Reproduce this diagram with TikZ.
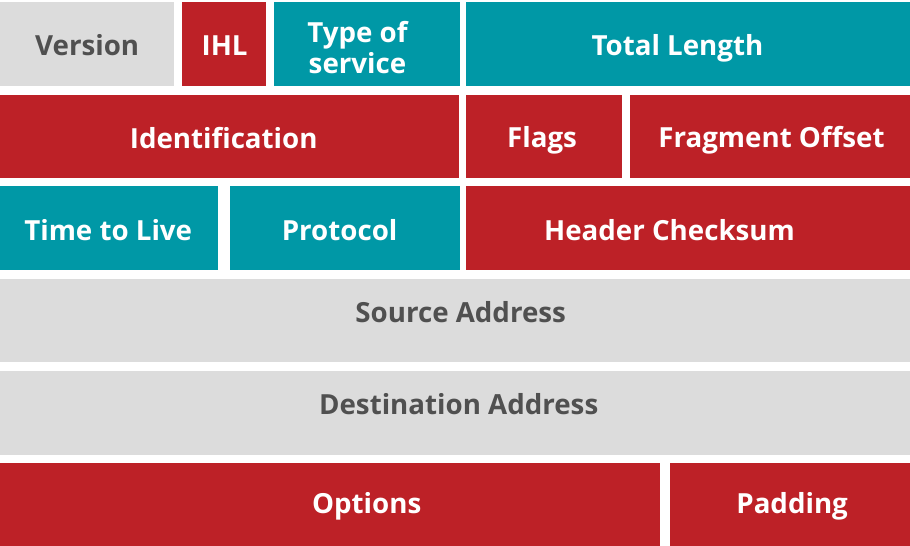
\documentclass[tikz,border=0pt]{standalone}
\usepackage{fontspec}
\setmainfont{Open Sans}
\usepackage{tikz}
\usetikzlibrary{positioning}
\definecolor{cred}{RGB}{189,33,39}
\definecolor{cteal}{RGB}{0,152,166}
\definecolor{cgray}{RGB}{220,220,220}
\definecolor{ctext}{RGB}{80,80,80}

\begin{document}
\begin{tikzpicture}[x=1pt,y=-1pt,node distance=8pt,
  field/.style={anchor=north west,inner sep=0pt,minimum height=84pt},
  red field/.style={field,fill=cred},
  teal field/.style={field,fill=cteal},
  gray field/.style={field,fill=cgray},
  fieldtext/.style={anchor=base,inner sep=0pt,align=center,text=white,
    font=\bfseries\fontsize{27.7}{31}\selectfont},
  dark fieldtext/.style={fieldtext,text=ctext}]
  \useasboundingbox (0,0) rectangle (910,546);
  % row 1
  \node[gray field,minimum width=174pt] (ver) at (0,2) {};
  \node[red field,minimum width=84pt,right=7pt of ver.north east,anchor=north west] (ihl) {};
  \node[teal field,minimum width=186pt,right=8pt of ihl.north east,anchor=north west] (tos) {};
  \node[teal field,minimum width=445pt,right=6pt of tos.north east,anchor=north west] (len) {};
  % row 2
  \node[red field,minimum width=459pt,minimum height=83pt] (id) at (0,95) {};
  \node[red field,minimum width=156pt,minimum height=83pt,right=6pt of id.north east,anchor=north west] (flags) {};
  \node[red field,minimum width=281pt,minimum height=83pt,right=8pt of flags.north east,anchor=north west] (frag) {};
  % row 3
  \node[teal field,minimum width=218pt] (ttl) at (0,186) {};
  \node[teal field,minimum width=230pt,right=11pt of ttl.north east,anchor=north west] (proto) {};
  \node[red field,minimum width=445pt,right=6pt of proto.north east,anchor=north west] (sum) {};
  % rows 4 and 5
  \node[gray field,minimum width=910pt,minimum height=83pt] (src) at (0,279) {};
  \node[gray field,minimum width=910pt,below=8pt of src.south west,anchor=north west] (dst) {};
  % row 6
  \node[red field,minimum width=660pt,minimum height=83pt] (opt) at (0,463) {};
  \node[red field,minimum width=241pt,minimum height=83pt,right=9pt of opt.north east,anchor=north west] (pad) {};

  % field names
  \node[dark fieldtext] (ver text) at ([shift={(0,11)}]ver.center) {Version};
  \node[fieldtext] (ihl text) at ([shift={(1,11)}]ihl.center) {IHL};
  \node[fieldtext] (tos text) at ([shift={(-9.5,29)}]tos.center) {Type of\\service};
  \node[fieldtext] (len text) at ([shift={(-11.5,11)}]len.center) {Total Length};
  \node[fieldtext] (id text) at ([shift={(-6,11.5)}]id.center) {Identification};
  \node[fieldtext] (flags text) at ([shift={(-1.5,10.5)}]flags.center) {Flags};
  \node[fieldtext] (frag text) at ([shift={(1,10.5)}]frag.center) {Fragment Offset};
  \node[fieldtext] (ttl text) at ([shift={(-1,12)}]ttl.center) {Time to Live};
  \node[fieldtext] (proto text) at ([shift={(-5,12)}]proto.center) {Protocol};
  \node[fieldtext] (sum text) at ([shift={(-19,12)}]sum.center) {Header Checksum};
  \node[dark fieldtext] (src text) at ([shift={(5.5,1.5)}]src.center) {Source Address};
  \node[dark fieldtext] (dst text) at ([shift={(3.5,2)}]dst.center) {Destination Address};
  \node[fieldtext] (opt text) at ([shift={(36.5,8.5)}]opt.center) {Options};
  \node[fieldtext] (pad text) at ([shift={(2,8.5)}]pad.center) {Padding};
\end{tikzpicture}
\end{document}
